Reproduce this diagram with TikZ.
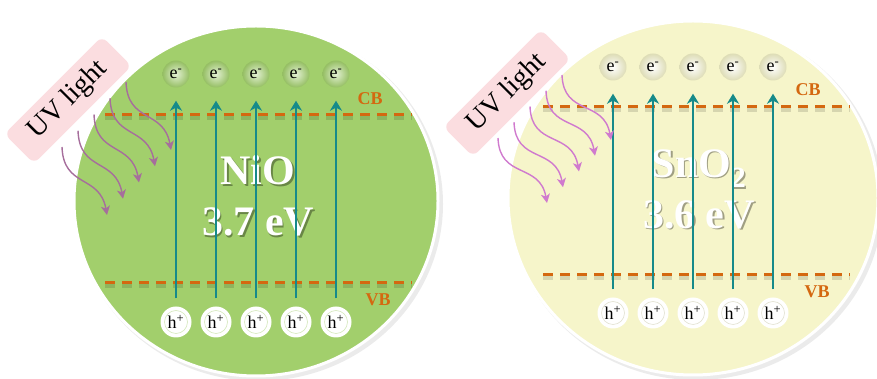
\documentclass[tikz,border=0pt]{standalone}
\usepackage{fontspec}
\setmainfont{Liberation Serif}
\usetikzlibrary{arrows.meta}
\definecolor{NiOGreen}{RGB}{162,207,108}
\definecolor{SnOYellow}{RGB}{246,245,202}
\definecolor{BandOrange}{RGB}{212,104,16}
\definecolor{JumpTeal}{RGB}{22,138,138}
\definecolor{UVPink}{RGB}{251,221,224}
\definecolor{RayMauve}{RGB}{166,110,156}
\definecolor{RayOrchid}{RGB}{208,122,206}

\begin{document}
\begin{tikzpicture}[x=1pt,y=1pt,
  disc/.style={draw=white,line width=3pt,fill=#1},
  discshadow/.style={fill=black,opacity=0.08},
  band/.style={BandOrange,line width=3pt,dash pattern=on 10pt off 7pt},
  bandshadow/.style={black,opacity=0.13,line width=4pt,dash pattern=on 10pt off 7pt},
  bandlbl/.style={text=BandOrange,inner sep=0pt,font=\fontsize{18}{18}\selectfont\bfseries},
  elec/.style 2 args={circle,minimum size=27pt,inner sep=0pt,inner color=#1,outer color=#2,font=\fontsize{18}{18}\selectfont},
  hole/.style={circle,minimum size=31pt,inner sep=0pt,fill=white,font=\fontsize{18}{18}\selectfont},
  jump/.style={JumpTeal,line width=1.8pt,-{Stealth[length=10pt,width=12pt,inset=3pt]},shorten <=8pt,shorten >=13pt},
  ray/.style={#1,line width=1.4pt,-{Stealth[length=9pt,width=9pt,inset=2.5pt]}},
  uvbox/.style={fill=UVPink,rounded corners=7pt,minimum width=138pt,minimum height=42pt,rotate=45,inner sep=0pt,font=\fontsize{28}{28}\selectfont},
  gaptxt/.style={text=#1,align=center,inner sep=0pt,font=\fontsize{42}{51}\selectfont\bfseries}]
\useasboundingbox (0,0) rectangle (877,379);

% NiO grain
\fill[discshadow] (259,175) ellipse (184 and 177);
\draw[disc=NiOGreen] (256,178) ellipse (182 and 175);
\draw[bandshadow] (105,261) -- (412,261);
\draw[bandshadow] (105,93) -- (412,93);
\draw[band] (105,264) -- (412,264);
\draw[band] (105,96) -- (412,96);
\node[bandlbl] (lcb) at (370,280) {CB};
\node[bandlbl] (lvb) at (378,79) {VB};
\node[gaptxt=black,opacity=0.35] (lgs) at (259.5,181.5) {NiO\\3.7 eV};
\node[gaptxt=white] (lgap) at (258,183) {NiO\\3.7 eV};
\foreach \i in {0,...,4} {
   \node[elec={NiOGreen!30!white}{NiOGreen!92!black}] (le\i) at (176+40*\i,305) {e\textsuperscript{-}};
   \node[hole] (lh\i) at (176+40*\i,57) {h\textsuperscript{+}};
   \draw[NiOGreen!45,line width=0.6pt] (lh\i) circle (11.5);
   \draw[jump] (lh\i) -- (le\i);
}
\node[uvbox] (luv) at (68,279) {UV light};
\foreach \i in {0,...,4} {
   \coordinate (lw\i) at (62+16*\i,232+16.25*\i);
   \draw[ray=RayMauve] (lw\i) to[out=-88,in=100,looseness=1.3] ++(45,-68);
}

% SnO2 grain
\fill[discshadow] (696,178) ellipse (187 and 179);
\draw[disc=SnOYellow] (693,181) ellipse (185 and 177);
\draw[bandshadow] (543,269) -- (850,269);
\draw[bandshadow] (543,101) -- (850,101);
\draw[band] (543,272) -- (850,272);
\draw[band] (543,104) -- (850,104);
\node[bandlbl] (rcb) at (808,289) {CB};
\node[bandlbl] (rvb) at (817,87) {VB};
\node[gaptxt=black,opacity=0.35] (rgs) at (700.5,188.5) {SnO\textsubscript{2}\\3.6 eV};
\node[gaptxt=white] (rgap) at (699,190) {SnO\textsubscript{2}\\3.6 eV};
\foreach \i in {0,...,4} {
   \node[elec={white}{SnOYellow!90!black}] (re\i) at (613+40*\i,312) {e\textsuperscript{-}};
   \node[hole] (rh\i) at (613+40*\i,66) {h\textsuperscript{+}};
   \draw[SnOYellow!80!black,line width=0.6pt,opacity=0.5] (rh\i) circle (11.5);
   \draw[jump] (rh\i) -- (re\i);
}
\node[uvbox] (ruv) at (507,286) {UV light};
\foreach \i in {0,...,4} {
   \coordinate (rw\i) at (498+16*\i,241+15.75*\i);
   \draw[ray=RayOrchid] (rw\i) to[out=-88,in=100,looseness=1.3] ++(49,-65);
}
\end{tikzpicture}
\end{document}
